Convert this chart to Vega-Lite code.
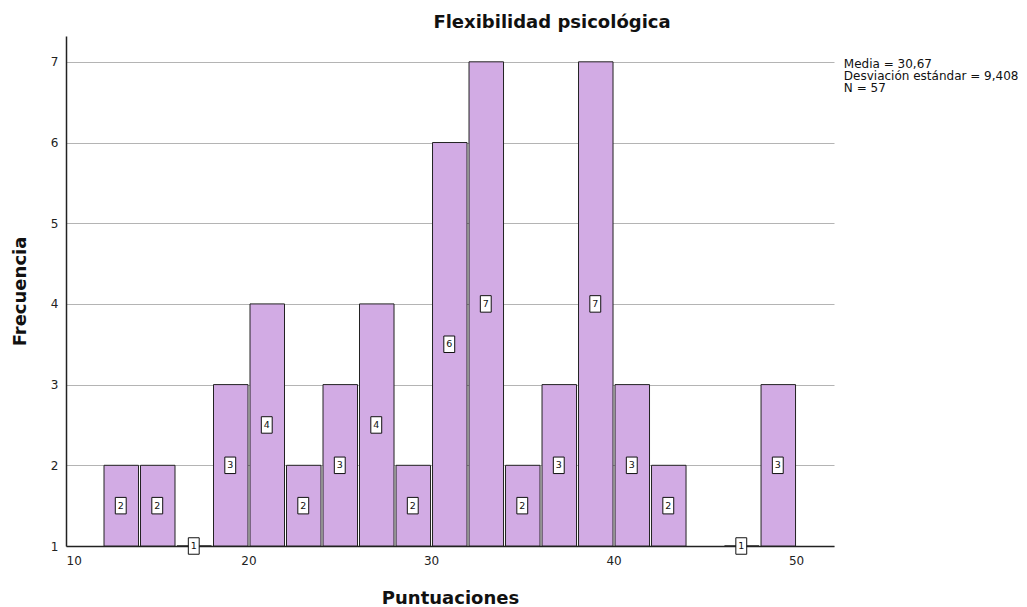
{
  "$schema": "https://vega.github.io/schema/vega-lite/v6.json",
  "width": 768,
  "height": 510,
  "autosize": {"type": "none"},
  "padding": {"left": 66, "top": 36, "right": 193, "bottom": 61},
  "background": "white",
  "config": {
    "font": "DejaVu Sans",
    "view": {"stroke": null},
    "axis": {"labelFont": "DejaVu Sans", "titleFont": "DejaVu Sans", "labelColor": "#222", "titleColor": "#111", "domainColor": "#222", "domainWidth": 1.5}
  },
  "title": {"text": "Flexibilidad psicológica", "fontSize": 18, "fontWeight": "bold", "font": "DejaVu Sans", "color": "#111", "anchor": "middle", "dx": 102, "offset": 4},
  "resolve": {"scale": {"x": "independent", "y": "independent"}},
  "data": {"values": [
    {"lo": 12, "count": 2},
    {"lo": 14, "count": 2},
    {"lo": 16, "count": 1},
    {"lo": 18, "count": 3},
    {"lo": 20, "count": 4},
    {"lo": 22, "count": 2},
    {"lo": 24, "count": 3},
    {"lo": 26, "count": 4},
    {"lo": 28, "count": 2},
    {"lo": 30, "count": 6},
    {"lo": 32, "count": 7},
    {"lo": 34, "count": 2},
    {"lo": 36, "count": 3},
    {"lo": 38, "count": 7},
    {"lo": 40, "count": 3},
    {"lo": 42, "count": 2},
    {"lo": 46, "count": 1},
    {"lo": 48, "count": 3}
  ]},
  "layer": [
    {
      "mark": {"type": "bar", "fill": "#D2ABE4", "stroke": "#222", "strokeWidth": 1, "binSpacing": 2},
      "encoding": {
        "x": {"field": "lo", "type": "quantitative", "bin": {"binned": true, "step": 2},
          "scale": {"domain": [10, 52.08], "nice": false, "zero": false},
          "axis": {"values": [10, 20, 30, 40, 50], "grid": false, "ticks": false, "labelPadding": 9, "labelFontSize": 12, "title": "Puntuaciones", "titleFontSize": 18, "titleFontWeight": "bold", "titlePadding": 23, "format": "d"}},
        "y": {"field": "count", "type": "quantitative",
          "scale": {"domain": [1, 7.32], "nice": false, "zero": false},
          "axis": {"values": [1, 2, 3, 4, 5, 6, 7], "format": "d", "grid": true, "gridColor": "#b4b4b4", "gridWidth": 1, "ticks": false, "labelPadding": 8, "labelFontSize": 12, "title": "Frecuencia", "titleFontSize": 18, "titleFontWeight": "bold", "titlePadding": 21}},
        "y2": {"datum": 1}
      }
    },
    {
      "mark": {"type": "point", "shape": "M-0.66,-1H0.66V1H-0.66Z", "filled": true, "fill": "white", "stroke": "#111", "strokeWidth": 1, "opacity": 1, "size": 272},
      "encoding": {
        "x": {"field": "lo", "type": "quantitative", "scale": {"domain": [9, 51.08], "nice": false, "zero": false}, "axis": null},
        "y": {"field": "count", "type": "quantitative", "scale": {"domain": [1, 13.64], "nice": false, "zero": false}, "axis": null}
      }
    },
    {
      "mark": {"type": "text", "fontSize": 9.5, "color": "#111", "align": "center", "baseline": "middle"},
      "encoding": {
        "x": {"field": "lo", "type": "quantitative", "scale": {"domain": [9, 51.08], "nice": false, "zero": false}, "axis": null},
        "y": {"field": "count", "type": "quantitative", "scale": {"domain": [1, 13.64], "nice": false, "zero": false}, "axis": null},
        "text": {"field": "count", "type": "quantitative"}
      }
    },
    {
      "data": {"values": [{"stat": "summary"}]},
      "mark": {"type": "text", "fontSize": 12, "color": "#111", "align": "left", "baseline": "top", "lineHeight": 12,
        "text": ["Media = 30,67", "Desviación estándar = 9,408", "N = 57"]},
      "encoding": {
        "x": {"datum": 52.62, "type": "quantitative", "scale": {"domain": [10, 52.08], "nice": false, "zero": false}, "axis": null},
        "y": {"datum": 7.03, "type": "quantitative", "scale": {"domain": [1, 7.32], "nice": false, "zero": false}, "axis": null}
      }
    }
  ]
}
